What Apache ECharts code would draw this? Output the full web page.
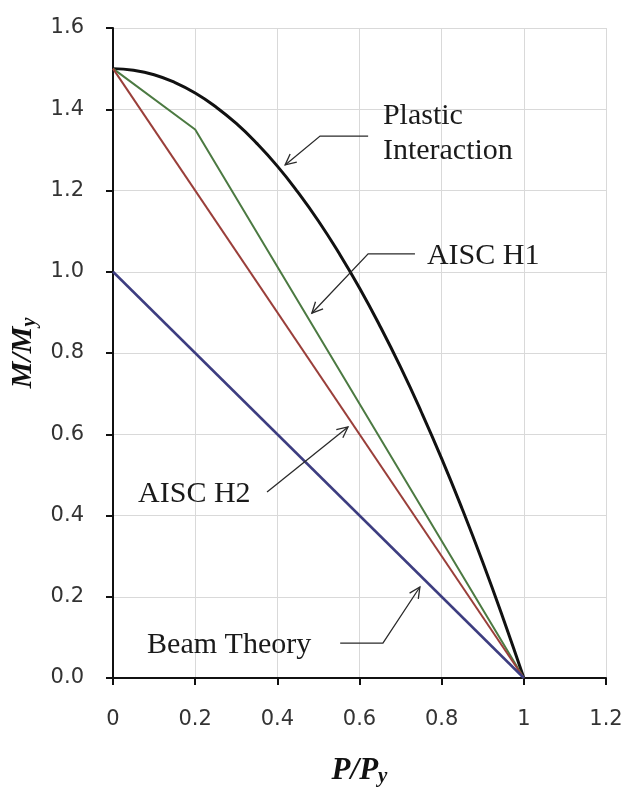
<!DOCTYPE html>
<html>
<head>
<meta charset="utf-8">
<script src="https://cdn.jsdelivr.net/npm/echarts@6/dist/echarts.min.js"></script>
<style>
    html, body { margin: 0; padding: 0; background: #fff; }
    #chart { width: 631px; height: 790px; }
</style>
</head>
<body>
<div id="chart"></div>
<script>
// P/Py, M/My values
const plasticData = [
    [0, 1.5], [0.05, 1.496], [0.1, 1.485], [0.15, 1.466], [0.2, 1.44], [0.25, 1.406],
    [0.3, 1.365], [0.35, 1.316], [0.4, 1.26], [0.45, 1.196], [0.5, 1.125], [0.55, 1.046],
    [0.6, 0.96], [0.65, 0.866], [0.7, 0.765], [0.75, 0.656], [0.8, 0.54], [0.85, 0.416],
    [0.9, 0.285], [0.95, 0.146], [1, 0]
]
const h1Data = [[0, 1.5], [0.2, 1.35], [1, 0]]
const h2Data = [[0, 1.5], [1, 0]]
const beamData = [[0, 1], [1, 0]]

const xTicks = ['0', '0.2', '0.4', '0.6', '0.8', '1', '1.2']
const yTicks = ['0.0', '0.2', '0.4', '0.6', '0.8', '1.0', '1.2', '1.4', '1.6']

// annotation labels: [text, x, y] (left edge, middle)
const noteLabels = [
    ['Plastic', 0.657, 1.383],
    ['Interaction', 0.657, 1.298],
    ['AISC H1', 0.764, 1.039],
    ['AISC H2', 0.061, 0.453],
    ['Beam Theory', 0.083, 0.081]
]
// leader arrows, last point is the arrow tip
const noteArrows = [
    [[0.621, 1.334], [0.504, 1.334], [0.419, 1.263]],
    [[0.735, 1.044], [0.621, 1.044], [0.484, 0.898]],
    [[0.375, 0.458], [0.572, 0.618]],
    [[0.553, 0.086], [0.657, 0.086], [0.747, 0.224]]
]

const chart = echarts.init(document.getElementById('chart'))

function lineSeries(name, data, color, width, smooth) {
    return {
        name: name,
        type: 'line',
        data: data,
        smooth: smooth,
        showSymbol: false,
        symbol: 'none',
        lineStyle: { color: color, width: width },
        z: 3
    }
}

const option = {
    animation: false,
    backgroundColor: '#fff',
    grid: {
        left: 113,
        right: 25,
        top: 28,
        bottom: 112,
        outerBoundsMode: 'none'
    },
    xAxis: {
        type: 'value',
        min: 0,
        max: 1.2,
        interval: 0.2,
        name: '{a|P/P}{b|y}',
        nameLocation: 'middle',
        nameGap: 76,
        nameTextStyle: {
            rich: {
                a: { fontFamily: 'Liberation Serif', fontWeight: 'bold', fontStyle: 'italic', fontSize: 31, color: '#111' },
                b: { fontFamily: 'Liberation Serif', fontWeight: 'bold', fontStyle: 'italic', fontSize: 21, color: '#111', verticalAlign: 'bottom', padding: [12, 0, 0, 0] }
            }
        },
        axisLine: { lineStyle: { color: '#111', width: 2 } },
        axisTick: { show: true, length: 7, lineStyle: { color: '#111', width: 2 } },
        axisLabel: {
            margin: 31,
            color: '#333',
            fontFamily: 'DejaVu Sans',
            fontSize: 21,
            formatter: (v) => xTicks[Math.round(v / 0.2)]
        },
        splitLine: { show: true, lineStyle: { color: '#d9d9d9', width: 1 } }
    },
    yAxis: {
        type: 'value',
        min: 0,
        max: 1.6,
        interval: 0.2,
        name: '{a|M/M}{b|y}',
        nameLocation: 'middle',
        nameGap: 72,
        nameRotate: 90,
        nameTextStyle: {
            rich: {
                a: { fontFamily: 'Liberation Serif', fontWeight: 'bold', fontStyle: 'italic', fontSize: 30, color: '#111' },
                b: { fontFamily: 'Liberation Serif', fontWeight: 'bold', fontStyle: 'italic', fontSize: 20, color: '#111', verticalAlign: 'bottom', padding: [12, 0, 0, 0] }
            }
        },
        axisLine: { show: true, lineStyle: { color: '#111', width: 2 } },
        axisTick: { show: true, length: 7, lineStyle: { color: '#111', width: 2 } },
        axisLabel: {
            margin: 29,
            color: '#333',
            fontFamily: 'DejaVu Sans',
            fontSize: 21,
            formatter: (v) => yTicks[Math.round(v / 0.2)]
        },
        splitLine: { show: true, lineStyle: { color: '#d9d9d9', width: 1 } }
    },
    series: [
        lineSeries('Plastic Interaction', plasticData, '#111111', 3, true),
        lineSeries('AISC H1', h1Data, '#4c7a42', 2, false),
        lineSeries('AISC H2', h2Data, '#9a3f3a', 2, false),
        lineSeries('Beam Theory', beamData, '#3d3d80', 2.5, false),
        {
            type: 'custom',
            name: 'arrows',
            data: noteArrows.map((a, i) => [i]),
            silent: true,
            z: 5,
            renderItem: function (params, api) {
                const pts = noteArrows[params.dataIndex].map(p => api.coord(p))
                const tip = pts[pts.length - 1]
                const prev = pts[pts.length - 2]
                const ang = Math.atan2(tip[1] - prev[1], tip[0] - prev[0])
                const len = 12, spread = 0.45
                const h1 = [tip[0] - len * Math.cos(ang - spread), tip[1] - len * Math.sin(ang - spread)]
                const h2 = [tip[0] - len * Math.cos(ang + spread), tip[1] - len * Math.sin(ang + spread)]
                return {
                    type: 'group',
                    children: [
                        { type: 'polyline', shape: { points: pts }, style: { stroke: '#2a2a2a', lineWidth: 1.3, fill: null } },
                        { type: 'polyline', shape: { points: [h1, tip, h2] }, style: { stroke: '#2a2a2a', lineWidth: 1.3, fill: null } }
                    ]
                }
            }
        },
        {
            type: 'custom',
            name: 'notes',
            data: noteLabels.map(n => [n[1], n[2]]),
            silent: true,
            z: 6,
            renderItem: function (params, api) {
                const p = api.coord([api.value(0), api.value(1)])
                return {
                    type: 'text',
                    x: p[0],
                    y: p[1],
                    style: {
                        text: noteLabels[params.dataIndex][0],
                        fill: '#1a1a1a',
                        font: '30px "Liberation Serif"',
                        align: 'left',
                        verticalAlign: 'middle'
                    }
                }
            }
        }
    ]
}

chart.setOption(option)
window.addEventListener('resize', () => {
    chart && chart.resize()
})
</script>
</body>
</html>
